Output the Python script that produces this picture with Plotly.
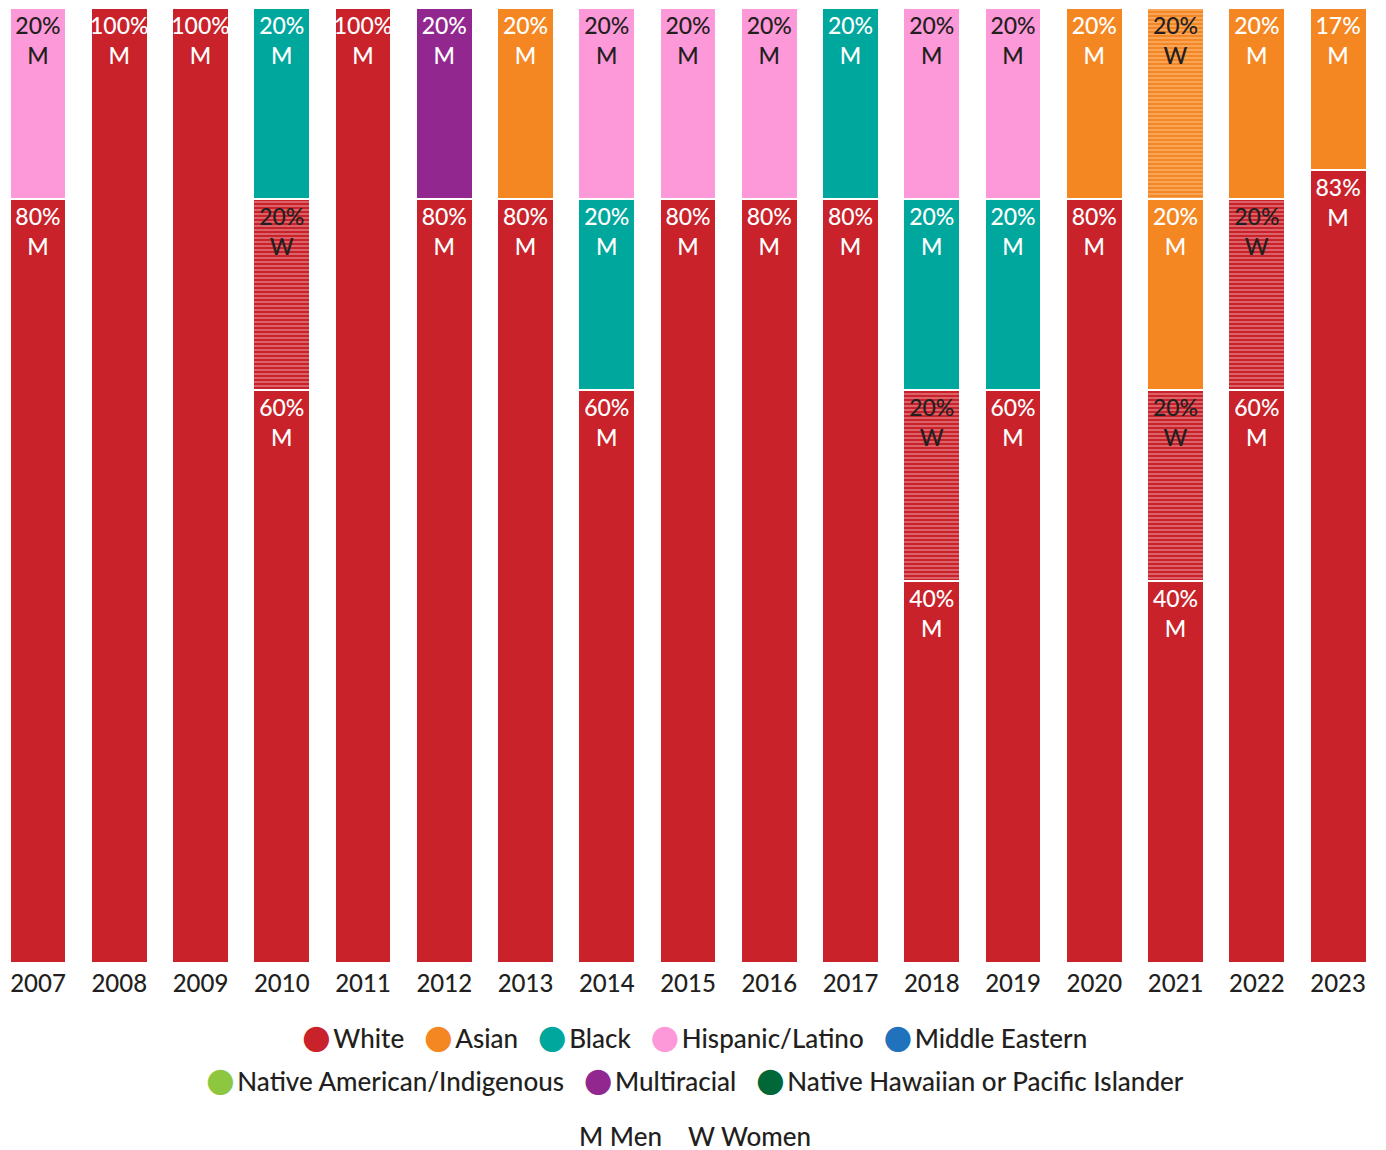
import plotly.graph_objects as go

years = ["2007", "2008", "2009", "2010", "2011", "2012", "2013", "2014", "2015",
         "2016", "2017", "2018", "2019", "2020", "2021", "2022", "2023"]

white_men =       [80, 100, 100, 60, 100, 80, 80, 60, 80, 80, 80, 40, 60, 80, 40, 60, 83]
white_women =     [None, None, None, 20, None, None, None, None, None, None, None, 20, None, None, 20, 20, None]
black_men =       [None, None, None, 20, None, None, None, 20, None, None, 20, 20, 20, None, None, None, None]
hispanic_men =    [20, None, None, None, None, None, None, 20, 20, 20, None, 20, 20, None, None, None, None]
asian_men =       [None, None, None, None, None, None, 20, None, None, None, None, None, None, 20, 20, 20, 17]
asian_women =     [None, None, None, None, None, None, None, None, None, None, None, None, None, None, 20, None, None]
multiracial_men = [None, None, None, None, None, 20, None, None, None, None, None, None, None, None, None, None, None]

legend_row1 = ["White", "Asian", "Black", "Hispanic/Latino", "Middle Eastern"]
legend_row2 = ["Native American/Indigenous", "Multiracial", "Native Hawaiian or Pacific Islander"]
gender_legend = [("M", "Men"), ("W", "Women")]

colors = {
    "White": "#C9222A",
    "Asian": "#F58723",
    "Black": "#00A79D",
    "Hispanic/Latino": "#FE99D9",
    "Middle Eastern": "#1F72BB",
    "Native American/Indigenous": "#8DC63F",
    "Multiracial": "#92278F",
    "Native Hawaiian or Pacific Islander": "#006838",
}

DARK = "#231F20"
FONT = "Lato"
W = 500

series = [
    ("White", "M", white_men, "white", False),
    ("White", "W", white_women, DARK, True),
    ("Black", "M", black_men, "white", False),
    ("Hispanic/Latino", "M", hispanic_men, DARK, False),
    ("Asian", "M", asian_men, "white", False),
    ("Asian", "W", asian_women, DARK, True),
    ("Multiracial", "M", multiracial_men, "white", False),
]

pale = {"White": "#F6C3C6", "Asian": "#FCD3AE"}

fig = go.Figure()
for race, g, vals, tcol, hatched in series:
    texts = [f"{v}%<br>{g}" if v is not None else "" for v in vals]
    marker = dict(color=colors[race], line=dict(color="white", width=2))
    if hatched:
        marker["pattern"] = dict(shape="-", fgcolor=pale[race], bgcolor=colors[race],
                                 size=4, solidity=0.4)
    fig.add_trace(go.Bar(
        x=years, y=vals, text=texts, name=f"{race} {g}",
        marker=marker, textposition="inside", insidetextanchor="end",
        textangle=0, constraintext="none",
        textfont=dict(color=tcol, size=23, family=FONT, weight=W),
        showlegend=False, hoverinfo="skip",
    ))


def legend_line(names):
    parts = []
    for n in names:
        parts.append(f"<span style='color:{colors[n]};font-size:33px;font-family:DejaVu Sans'>●</span>"
                     f"<span style='font-size:10px'> </span>{n}")
    return "   ".join(parts)


gender_text = "    ".join(f"{k} {v}" for k, v in gender_legend)

ann_common = dict(xref="paper", yref="paper", showarrow=False, xanchor="center",
                  yanchor="middle", font=dict(family=FONT, size=26, color=DARK, weight=W))

fig.update_layout(
    width=1386, height=1150,
    margin=dict(l=0, r=8, t=0, b=195),
    paper_bgcolor="white", plot_bgcolor="white",
    barmode="stack", bargap=0.3, showlegend=False,
    font=dict(family=FONT, color=DARK),
    xaxis=dict(type="category", range=[-0.369, 16.59], showgrid=False, showline=False,
               zeroline=False, tickfont=dict(family=FONT, size=24, color=DARK, weight=W),
               ticks="", ticklabelstandoff=4),
    yaxis=dict(range=[0, 100], visible=False, showgrid=False),
    annotations=[
        dict(text=legend_line(legend_row1), x=0.4985, y=-0.0765, **ann_common),
        dict(text=legend_line(legend_row2), x=0.4985, y=-0.1215, **ann_common),
        dict(text=gender_text, x=0.4985, y=-0.181, **ann_common),
    ],
)

fig.write_html("out.html")
